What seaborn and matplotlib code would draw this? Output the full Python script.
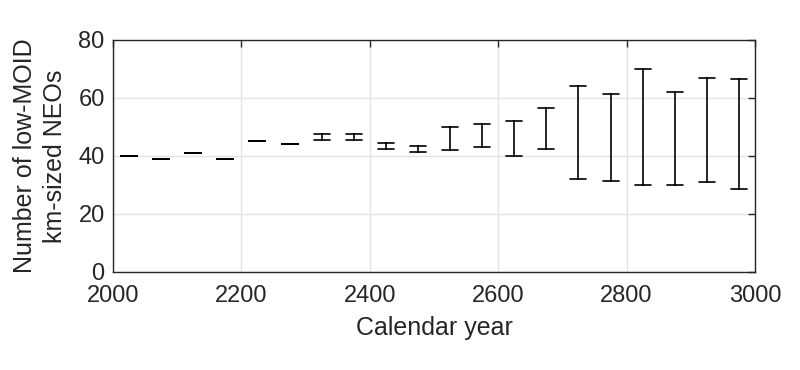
import numpy as np
import pandas as pd
import matplotlib
matplotlib.use("Agg")
import matplotlib.pyplot as plt
import seaborn as sns

years = [2025, 2075, 2125, 2175, 2225, 2275, 2325, 2375, 2425, 2475,
         2525, 2575, 2625, 2675, 2725, 2775, 2825, 2875, 2925, 2975]
low = [40, 39, 41, 39, 45, 44, 45.4, 45.4, 42.5, 41.5,
       42, 43, 40, 42.4, 32, 31.5, 30, 30, 31, 28.5]
high = [40, 39, 41, 39, 45, 44, 47.5, 47.5, 44.5, 43.4,
        50, 51, 52, 56.4, 64, 61.5, 70, 62, 67, 66.4]
xticks = [2000, 2200, 2400, 2600, 2800, 3000]
yticks = [0, 20, 40, 60, 80]

df = pd.DataFrame({
    "year": years + years,
    "n": low + high,
})

sns.set_theme(style="whitegrid")
plt.rcParams["font.family"] = ["Liberation Sans", "DejaVu Sans"]

fig = plt.figure(figsize=(8, 3.7), dpi=100)
ax = fig.add_axes([113/800, 1 - 272/370, (755-113)/800, (272-40)/370])

sns.pointplot(data=df, x="year", y="n", native_scale=True,
              errorbar=("pi", 100), estimator="mean",
              linestyle="none", marker="", color="black",
              capsize=0.5, err_kws={"linewidth": 1.2}, ax=ax)

ax.set_xlim(2000, 3000)
ax.set_ylim(0, 80)
ax.set_xticks(xticks)
ax.set_yticks(yticks)
ax.set_xlabel("Calendar year", fontsize=18, color="#262626", labelpad=7)
ax.set_ylabel("Number of low-MOID\nkm-sized NEOs", fontsize=18, color="#262626",
              linespacing=1.3, labelpad=8)
ax.tick_params(axis="both", which="both", direction="in", length=5, width=1,
               labelsize=17, colors="#262626", top=True, right=True,
               labeltop=False, labelright=False)
ax.tick_params(axis="x", pad=9)
ax.tick_params(axis="y", pad=6)
ax.grid(True, color="#e3e3e3", linewidth=1)
for s in ax.spines.values():
    s.set_color("#262626")
    s.set_linewidth(1)
    s.set_visible(True)

fig.savefig("out.png", dpi=100, facecolor="white")
